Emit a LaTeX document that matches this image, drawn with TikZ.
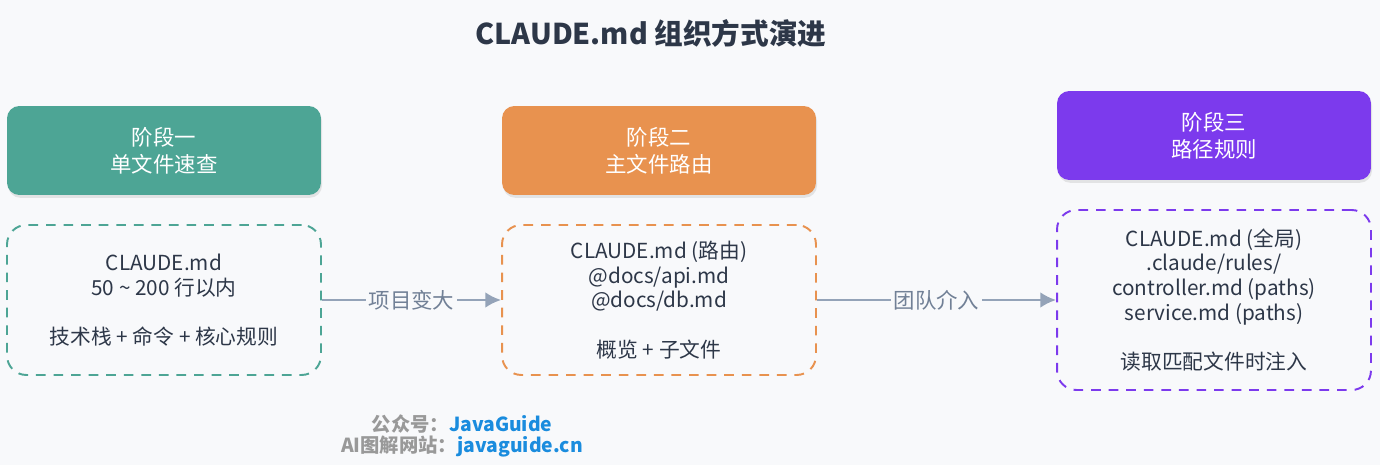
\documentclass[tikz,border=0pt]{standalone}
\usepackage{fontspec}
\setmainfont{Noto Sans CJK SC}
\usetikzlibrary{arrows.meta, positioning, shadows}
\definecolor{pagebg}{HTML}{F8F9FB}
\definecolor{titledark}{HTML}{2D3748}
\definecolor{bodytext}{HTML}{2D3748}
\definecolor{stageteal}{HTML}{4DA595}
\definecolor{stageorange}{HTML}{E8924F}
\definecolor{stagepurple}{HTML}{7C3AED}
\definecolor{flowgray}{HTML}{94A3B8}
\definecolor{flowtext}{HTML}{718096}
\definecolor{wmgray}{HTML}{999999}
\definecolor{wmblue}{HTML}{1A8CDE}

\begin{document}
\begin{tikzpicture}[x=0.02cm, y=-0.02cm,
      header/.style={rounded corners=7pt, minimum width=6.28cm,
        minimum height=1.78cm, align=center, text=white,
        font=\fontsize{12.2}{15.3}\selectfont,
        drop shadow={shadow xshift=0.6pt, shadow yshift=-1.6pt, opacity=0.18}},
      body/.style={draw, line width=1.1pt, dash pattern=on 5.5pt off 4.5pt,
        rounded corners=11pt, minimum width=6.28cm, minimum height=3cm,
        align=center, text=bodytext, font=\fontsize{11.8}{14.1}\selectfont},
      flow/.style={draw=flowgray, line width=1.4pt, -{Latex[length=9pt, width=9pt]}},
      flowlabel/.style={fill=pagebg, text=flowtext, inner sep=1.5pt,
        font=\fontsize{12.2}{15}\selectfont},
      >=Latex
    ]
      \fill[pagebg] (0,0) rectangle (1380,465);
      \node[font=\bfseries\fontsize{16.3}{19}\selectfont, text=titledark] (title)
        at (651,33) {CLAUDE.md 组织方式演进};

      % stage one
      \node[header, fill=stageteal] (head1) at (164,150.5) {阶段一\\单文件速查};
      \node[body, draw=stageteal] (body1) at (164,300)
        {CLAUDE.md\\50 \textasciitilde{} 200 行以内\\[14pt]技术栈 + 命令 + 核心规则};

      % stage two
      \node[header, fill=stageorange] (head2) at (659,150.5) {阶段二\\主文件路由};
      \node[body, draw=stageorange] (body2) at (659,300)
        {CLAUDE.md (路由)\\@docs/api.md\\@docs/db.md\\[14pt]概览 + 子文件};

      % stage three
      \node[header, fill=stagepurple] (head3) at (1214,135.5) {阶段三\\路径规则};
      \node[body, draw=stagepurple, minimum height=3.6cm] (body3) at (1214,300)
        {CLAUDE.md (全局)\\.claude/rules/\\controller.md (paths)\\service.md (paths)\\[14pt]读取匹配文件时注入};

      \draw[flow] (body1) -- node[flowlabel] {项目变大} (body2);
      \draw[flow] (body2) -- node[flowlabel] {团队介入} (body3);

      % footer
      \node[font=\bfseries\fontsize{11}{12}\selectfont, text=wmgray] (footer1)
        at (462,424) {公众号：\textcolor{wmblue}{JavaGuide}};
      \node[font=\bfseries\fontsize{11}{12}\selectfont, text=wmgray] (footer2)
        at (462,447) {AI图解网站：\textcolor{wmblue}{javaguide.cn}};
    \end{tikzpicture}
\end{document}
